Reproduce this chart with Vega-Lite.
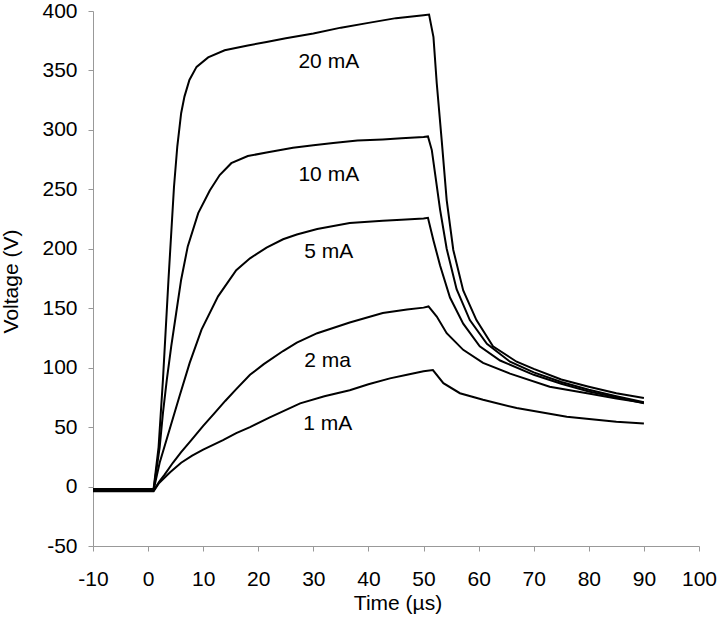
{
  "$schema": "https://vega.github.io/schema/vega-lite/v6.json",
  "width": 606,
  "height": 535,
  "autosize": {"type": "none"},
  "padding": {"left": 93, "top": 11, "right": 19, "bottom": 72},
  "background": "white",
  "config": {
    "view": {"stroke": null},
    "font": "Liberation Sans"
  },
  "datasets": {
    "curves": [
      {"s": "20 mA", "t": -10, "v": -2}, {"s": "20 mA", "t": 1, "v": -2}, {"s": "20 mA", "t": 1.9, "v": 33}, {"s": "20 mA", "t": 2.7, "v": 90}, {"s": "20 mA", "t": 3.7, "v": 174}, {"s": "20 mA", "t": 4.7, "v": 252}, {"s": "20 mA", "t": 5.3, "v": 286}, {"s": "20 mA", "t": 6, "v": 314}, {"s": "20 mA", "t": 6.6, "v": 328}, {"s": "20 mA", "t": 7.5, "v": 342}, {"s": "20 mA", "t": 8.8, "v": 353}, {"s": "20 mA", "t": 10.9, "v": 361}, {"s": "20 mA", "t": 13.9, "v": 367}, {"s": "20 mA", "t": 18.1, "v": 371}, {"s": "20 mA", "t": 21.5, "v": 374}, {"s": "20 mA", "t": 25, "v": 377}, {"s": "20 mA", "t": 30, "v": 381}, {"s": "20 mA", "t": 35, "v": 386}, {"s": "20 mA", "t": 40, "v": 390}, {"s": "20 mA", "t": 45, "v": 394}, {"s": "20 mA", "t": 50, "v": 396.5}, {"s": "20 mA", "t": 51, "v": 397}, {"s": "20 mA", "t": 51.8, "v": 378}, {"s": "20 mA", "t": 52.4, "v": 339}, {"s": "20 mA", "t": 53.3, "v": 291}, {"s": "20 mA", "t": 54.2, "v": 241}, {"s": "20 mA", "t": 55.4, "v": 199}, {"s": "20 mA", "t": 57.2, "v": 165}, {"s": "20 mA", "t": 59.6, "v": 140}, {"s": "20 mA", "t": 62.6, "v": 118}, {"s": "20 mA", "t": 66.9, "v": 105}, {"s": "20 mA", "t": 70, "v": 99}, {"s": "20 mA", "t": 75, "v": 90}, {"s": "20 mA", "t": 80, "v": 84}, {"s": "20 mA", "t": 85, "v": 78.5}, {"s": "20 mA", "t": 90, "v": 74.5},
      {"s": "10 mA", "t": -10, "v": -2.5}, {"s": "10 mA", "t": 1, "v": -2.5}, {"s": "10 mA", "t": 2.1, "v": 33}, {"s": "10 mA", "t": 2.7, "v": 62}, {"s": "10 mA", "t": 3.4, "v": 90}, {"s": "10 mA", "t": 4.2, "v": 118}, {"s": "10 mA", "t": 5.1, "v": 146}, {"s": "10 mA", "t": 6, "v": 174}, {"s": "10 mA", "t": 7.2, "v": 202}, {"s": "10 mA", "t": 9.1, "v": 230}, {"s": "10 mA", "t": 11.2, "v": 249}, {"s": "10 mA", "t": 13, "v": 262}, {"s": "10 mA", "t": 15.1, "v": 272}, {"s": "10 mA", "t": 18.1, "v": 278}, {"s": "10 mA", "t": 21.5, "v": 281}, {"s": "10 mA", "t": 26.3, "v": 285}, {"s": "10 mA", "t": 30, "v": 287}, {"s": "10 mA", "t": 33.6, "v": 289}, {"s": "10 mA", "t": 38, "v": 291}, {"s": "10 mA", "t": 42.6, "v": 292}, {"s": "10 mA", "t": 46, "v": 293}, {"s": "10 mA", "t": 50, "v": 294}, {"s": "10 mA", "t": 50.8, "v": 294.5}, {"s": "10 mA", "t": 51.5, "v": 283}, {"s": "10 mA", "t": 52.1, "v": 263}, {"s": "10 mA", "t": 53, "v": 233}, {"s": "10 mA", "t": 54.2, "v": 200}, {"s": "10 mA", "t": 56, "v": 166}, {"s": "10 mA", "t": 58.4, "v": 140}, {"s": "10 mA", "t": 61.5, "v": 120}, {"s": "10 mA", "t": 65.7, "v": 105}, {"s": "10 mA", "t": 70, "v": 96}, {"s": "10 mA", "t": 75, "v": 88}, {"s": "10 mA", "t": 80, "v": 81.5}, {"s": "10 mA", "t": 85, "v": 76}, {"s": "10 mA", "t": 90, "v": 71},
      {"s": "5 mA", "t": -10, "v": -3}, {"s": "5 mA", "t": 1, "v": -3}, {"s": "5 mA", "t": 2.1, "v": 20}, {"s": "5 mA", "t": 3.9, "v": 48}, {"s": "5 mA", "t": 5.7, "v": 76}, {"s": "5 mA", "t": 7.55, "v": 104}, {"s": "5 mA", "t": 9.7, "v": 132}, {"s": "5 mA", "t": 12.7, "v": 160}, {"s": "5 mA", "t": 16, "v": 182}, {"s": "5 mA", "t": 18.5, "v": 192}, {"s": "5 mA", "t": 21.5, "v": 201}, {"s": "5 mA", "t": 24.5, "v": 208}, {"s": "5 mA", "t": 27, "v": 212}, {"s": "5 mA", "t": 30.7, "v": 216.6}, {"s": "5 mA", "t": 36.6, "v": 221.7}, {"s": "5 mA", "t": 42.6, "v": 223.5}, {"s": "5 mA", "t": 46, "v": 224.5}, {"s": "5 mA", "t": 50, "v": 225.5}, {"s": "5 mA", "t": 50.8, "v": 226}, {"s": "5 mA", "t": 51.8, "v": 207}, {"s": "5 mA", "t": 53, "v": 186}, {"s": "5 mA", "t": 54.8, "v": 159}, {"s": "5 mA", "t": 57.2, "v": 137}, {"s": "5 mA", "t": 60.2, "v": 118}, {"s": "5 mA", "t": 63.9, "v": 106}, {"s": "5 mA", "t": 70, "v": 94}, {"s": "5 mA", "t": 75, "v": 86.5}, {"s": "5 mA", "t": 80, "v": 80}, {"s": "5 mA", "t": 85, "v": 75}, {"s": "5 mA", "t": 90, "v": 70},
      {"s": "2 mA", "t": -10, "v": -3.5}, {"s": "2 mA", "t": 1, "v": -3.5}, {"s": "2 mA", "t": 2, "v": 4}, {"s": "2 mA", "t": 3, "v": 10}, {"s": "2 mA", "t": 4.5, "v": 20}, {"s": "2 mA", "t": 6, "v": 29}, {"s": "2 mA", "t": 7.85, "v": 39}, {"s": "2 mA", "t": 10, "v": 51}, {"s": "2 mA", "t": 12.1, "v": 62}, {"s": "2 mA", "t": 14, "v": 72}, {"s": "2 mA", "t": 16, "v": 82}, {"s": "2 mA", "t": 18.5, "v": 94}, {"s": "2 mA", "t": 21, "v": 103}, {"s": "2 mA", "t": 24.5, "v": 114}, {"s": "2 mA", "t": 27, "v": 121}, {"s": "2 mA", "t": 30.7, "v": 129}, {"s": "2 mA", "t": 36.6, "v": 138}, {"s": "2 mA", "t": 42.6, "v": 146}, {"s": "2 mA", "t": 47, "v": 149}, {"s": "2 mA", "t": 50, "v": 150.5}, {"s": "2 mA", "t": 50.9, "v": 151.5}, {"s": "2 mA", "t": 52.4, "v": 143}, {"s": "2 mA", "t": 54.2, "v": 129}, {"s": "2 mA", "t": 57.2, "v": 115}, {"s": "2 mA", "t": 60.8, "v": 104}, {"s": "2 mA", "t": 65.7, "v": 95}, {"s": "2 mA", "t": 72.9, "v": 84}, {"s": "2 mA", "t": 80.2, "v": 78}, {"s": "2 mA", "t": 85, "v": 74}, {"s": "2 mA", "t": 90, "v": 70.5},
      {"s": "1 mA", "t": -10, "v": -4}, {"s": "1 mA", "t": 1, "v": -4}, {"s": "1 mA", "t": 2, "v": 3}, {"s": "1 mA", "t": 4, "v": 12}, {"s": "1 mA", "t": 6, "v": 20}, {"s": "1 mA", "t": 8, "v": 26}, {"s": "1 mA", "t": 10, "v": 31}, {"s": "1 mA", "t": 13.6, "v": 39}, {"s": "1 mA", "t": 16, "v": 45}, {"s": "1 mA", "t": 18.5, "v": 50}, {"s": "1 mA", "t": 22, "v": 58}, {"s": "1 mA", "t": 27.6, "v": 70}, {"s": "1 mA", "t": 32, "v": 76}, {"s": "1 mA", "t": 36.6, "v": 81}, {"s": "1 mA", "t": 40, "v": 86}, {"s": "1 mA", "t": 43.9, "v": 91}, {"s": "1 mA", "t": 47, "v": 94}, {"s": "1 mA", "t": 50, "v": 97}, {"s": "1 mA", "t": 51.7, "v": 98}, {"s": "1 mA", "t": 53.6, "v": 87}, {"s": "1 mA", "t": 56.6, "v": 78.5}, {"s": "1 mA", "t": 60.8, "v": 73}, {"s": "1 mA", "t": 66.9, "v": 66}, {"s": "1 mA", "t": 76, "v": 58.7}, {"s": "1 mA", "t": 85, "v": 54.5}, {"s": "1 mA", "t": 90, "v": 53}
    ],
    "labels": [
      {"label": "20 mA", "t": 32.8, "v": 357},
      {"label": "10 mA", "t": 32.8, "v": 262},
      {"label": "5 mA", "t": 32.8, "v": 197},
      {"label": "2 ma", "t": 32.6, "v": 106},
      {"label": "1 mA", "t": 32.6, "v": 53}
    ]
  },
  "layer": [
    {
      "data": {"name": "curves"},
      "mark": {"type": "line", "color": "black", "strokeWidth": 2, "interpolate": "linear"},
      "encoding": {
        "x": {
          "field": "t", "type": "quantitative",
          "scale": {"domain": [-10, 100], "nice": false, "zero": false},
          "axis": {
            "values": [-10, 0, 10, 20, 30, 40, 50, 60, 70, 80, 90, 100],
            "labelExpr": "'' + datum.value",
            "grid": false, "domainColor": "#999999", "tickColor": "#999999",
            "tickSize": 5, "labelPadding": 17, "labelFontSize": 21, "labelFont": "Liberation Sans",
            "labelColor": "black", "labelFlush": false, "labelOverlap": false, "labelBound": false,
            "title": "Time (µs)", "titleFontSize": 21, "titleFontWeight": "normal", "titleFont": "Liberation Sans",
            "titleColor": "black", "titleX": 304.5, "titleY": 63, "titleBaseline": "alphabetic", "titleAlign": "center"
          }
        },
        "y": {
          "field": "v", "type": "quantitative",
          "scale": {"domain": [-50, 400], "nice": false, "zero": false},
          "axis": {
            "values": [-50, 0, 50, 100, 150, 200, 250, 300, 350, 400],
            "labelExpr": "'' + datum.value",
            "grid": false, "domainColor": "#999999", "tickColor": "#999999",
            "tickSize": 5, "labelPadding": 11, "labelFontSize": 21, "labelFont": "Liberation Sans",
            "labelColor": "black", "labelFlush": false, "labelOverlap": false, "labelBound": false,
            "title": "Voltage (V)", "titleFontSize": 21, "titleFontWeight": "normal", "titleFont": "Liberation Sans",
            "titleColor": "black", "titleX": -76, "titleY": 270, "titleAngle": -90, "titleBaseline": "alphabetic", "titleAlign": "center"
          }
        },
        "detail": {"field": "s", "type": "nominal"}
      }
    },
    {
      "data": {"name": "labels"},
      "mark": {"type": "text", "fontSize": 21, "font": "Liberation Sans", "color": "black", "baseline": "middle", "align": "center"},
      "encoding": {
        "x": {"field": "t", "type": "quantitative"},
        "y": {"field": "v", "type": "quantitative"},
        "text": {"field": "label", "type": "nominal"}
      }
    }
  ]
}
